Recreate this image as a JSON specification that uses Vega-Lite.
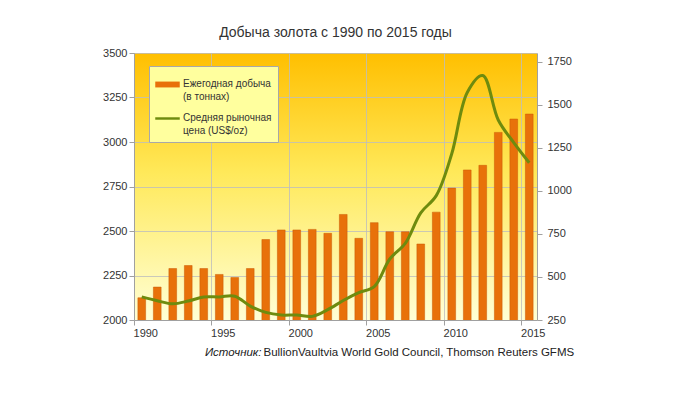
{
  "$schema": "https://vega.github.io/schema/vega-lite/v6.json",
  "width": 403,
  "height": 267,
  "autosize": {"type": "none"},
  "padding": {"left": 134, "top": 53, "right": 163, "bottom": 74},
  "background": "white",
  "title": {
    "text": "Добыча золота с 1990 по 2015 годы",
    "font": "Liberation Sans",
    "fontSize": 14,
    "fontWeight": "normal",
    "color": "#333333",
    "offset": 7
  },
  "view": {
    "stroke": null,
    "fill": {
      "gradient": "linear",
      "x1": 0, "y1": 0, "x2": 0, "y2": 1,
      "stops": [
        {"offset": 0, "color": "#FFBF00"},
        {"offset": 0.45, "color": "#FFE95A"},
        {"offset": 1, "color": "#FFFFD6"}
      ]
    }
  },
  "data": {
    "values": [
      {"year": 1990, "production": 2125, "price": 384},
      {"year": 1991, "production": 2185, "price": 362},
      {"year": 1992, "production": 2289, "price": 344},
      {"year": 1993, "production": 2306, "price": 360},
      {"year": 1994, "production": 2289, "price": 384},
      {"year": 1995, "production": 2256, "price": 384},
      {"year": 1996, "production": 2239, "price": 388},
      {"year": 1997, "production": 2289, "price": 331},
      {"year": 1998, "production": 2452, "price": 294},
      {"year": 1999, "production": 2506, "price": 279},
      {"year": 2000, "production": 2506, "price": 279},
      {"year": 2001, "production": 2509, "price": 271},
      {"year": 2002, "production": 2487, "price": 310},
      {"year": 2003, "production": 2593, "price": 363},
      {"year": 2004, "production": 2459, "price": 409},
      {"year": 2005, "production": 2547, "price": 444},
      {"year": 2006, "production": 2496, "price": 604},
      {"year": 2007, "production": 2496, "price": 695},
      {"year": 2008, "production": 2427, "price": 872},
      {"year": 2009, "production": 2606, "price": 972},
      {"year": 2010, "production": 2741, "price": 1215},
      {"year": 2011, "production": 2843, "price": 1571},
      {"year": 2012, "production": 2869, "price": 1669},
      {"year": 2013, "production": 3054, "price": 1411},
      {"year": 2014, "production": 3129, "price": 1280},
      {"year": 2015, "production": 3157, "price": 1163}
    ]
  },
  "layer": [
    {
      "mark": {"type": "bar", "stroke": "#C85A05", "strokeWidth": 0.5, "clip": true},
      "encoding": {
        "x": {
          "field": "year",
          "type": "ordinal",
          "scale": {"paddingInner": 0.5, "paddingOuter": 0.25},
          "axis": {
            "values": [1990, 1995, 2000, 2005, 2010, 2015],
            "bandPosition": -0.5,
            "labelOffset": 4,
            "labelAngle": 0,
            "grid": true,
            "title": "BullionVaultvia World Gold Council, Thomson Reuters GFMS",
            "titleX": 129,
            "titleY": 32,
            "titleAlign": "left",
            "titleBaseline": "middle",
            "titleFontWeight": "normal",
            "titleFontSize": 11.5
          }
        },
        "y": {
          "field": "production",
          "type": "quantitative",
          "scale": {"domain": [2000, 3500], "zero": false, "nice": false},
          "axis": {
            "orient": "left",
            "values": [2000, 2250, 2500, 2750, 3000, 3250, 3500],
            "format": "d",
            "grid": true,
            "title": null,
            "labelPadding": 2
          }
        },
        "color": {
          "datum": "Ежегодная добыча|(в тоннах)",
          "scale": {
            "domain": ["Ежегодная добыча|(в тоннах)", "Средняя рыночная|цена (US$/oz)"],
            "range": ["#E8710A", "#6E8B0E"]
          },
          "legend": {
            "orient": "none",
            "legendX": 15,
            "legendY": 13,
            "title": null,
            "fillColor": "#FFFF9E",
            "strokeColor": "#A8A8A8",
            "padding": 6,
            "symbolType": "M-1,-0.24H1V0.24H-1Z",
            "symbolSize": 600,
            "symbolStrokeWidth": 0,
            "labelExpr": "split(datum.label, '|')",
            "labelFont": "Liberation Sans",
            "labelFontSize": 10,
            "labelColor": "#333333",
            "labelOffset": 3,
            "labelBaseline": "top",
            "rowPadding": 4,
            "encode": {
              "symbols": {
                "update": {
                  "shape": {"signal": "datum.index === 0 ? 'M-1,-0.24H1V0.24H-1Z' : 'M-1,-0.1H1V0.1H-1Z'"},
                  "fill": {"scale": "color", "field": "value"},
                  "stroke": {"value": "transparent"}
                }
              },
              "labels": {
                "update": {
                  "dy": {"value": -6},
                  "lineHeight": {"value": 13}
                }
              }
            }
          }
        }
      }
    },
    {
      "mark": {"type": "line", "strokeWidth": 3, "interpolate": "catmull-rom"},
      "encoding": {
        "x": {
          "field": "year",
          "type": "ordinal",
          "axis": {
            "orient": "bottom",
            "labels": false,
            "ticks": false,
            "domain": false,
            "grid": false,
            "title": "Источник:",
            "titleFontStyle": "italic",
            "titleFontWeight": "normal",
            "titleFontSize": 11.5,
            "titleX": 127,
            "titleY": 32,
            "titleAlign": "right",
            "titleBaseline": "middle"
          }
        },
        "y": {
          "field": "price",
          "type": "quantitative",
          "scale": {"domain": [250, 1800], "zero": false, "nice": false},
          "axis": {
            "orient": "right",
            "values": [250, 500, 750, 1000, 1250, 1500, 1750],
            "format": "d",
            "grid": false,
            "title": null,
            "labelPadding": 5
          }
        },
        "color": {
          "datum": "Средняя рыночная|цена (US$/oz)",
          "legend": {
            "orient": "none",
            "legendX": 15,
            "legendY": 13,
            "title": null,
            "fillColor": "#FFFF9E",
            "strokeColor": "#A8A8A8",
            "padding": 6,
            "symbolType": "M-1,-0.24H1V0.24H-1Z",
            "symbolSize": 600,
            "symbolStrokeWidth": 0,
            "labelExpr": "split(datum.label, '|')",
            "labelFont": "Liberation Sans",
            "labelFontSize": 10,
            "labelColor": "#333333",
            "labelOffset": 3,
            "labelBaseline": "top",
            "rowPadding": 4,
            "encode": {
              "symbols": {
                "update": {
                  "shape": {"signal": "datum.index === 0 ? 'M-1,-0.24H1V0.24H-1Z' : 'M-1,-0.1H1V0.1H-1Z'"},
                  "fill": {"scale": "color", "field": "value"},
                  "stroke": {"value": "transparent"}
                }
              },
              "labels": {
                "update": {
                  "dy": {"value": -6},
                  "lineHeight": {"value": 13}
                }
              }
            }
          }
        }
      }
    }
  ],
  "resolve": {"scale": {"y": "independent"}, "axis": {"x": "independent"}},
  "config": {
    "font": "Liberation Sans",
    "axis": {
      "labelFont": "Liberation Sans",
      "labelFontSize": 11,
      "labelColor": "#333333",
      "titleFont": "Liberation Sans",
      "titleColor": "#222222",
      "domainColor": "#A0A0A0",
      "tickColor": "#A0A0A0",
      "tickSize": 5,
      "gridColor": "#BDBDBD",
      "gridOpacity": 0.8
    }
  }
}
